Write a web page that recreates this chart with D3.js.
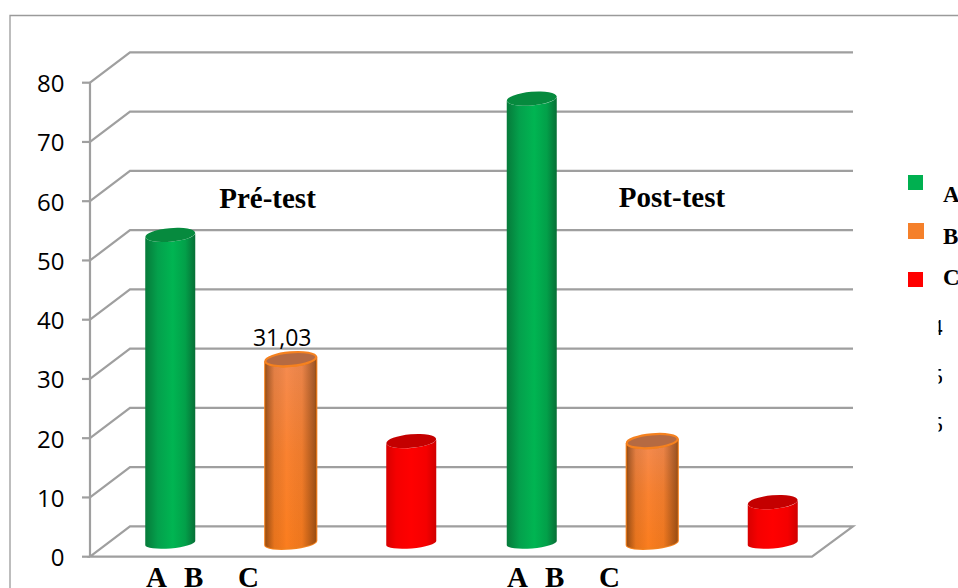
<!DOCTYPE html>
<html><head><meta charset="utf-8">
<script src="https://cdnjs.cloudflare.com/ajax/libs/d3/7.8.5/d3.min.js"></script>
<style>html,body{margin:0;padding:0;background:#fff;overflow:hidden}svg{display:block}</style>
</head><body><svg id="c" width="958" height="588"></svg>
<script>
const groups = ["Pré-test", "Post-test"];
const seriesNames = ["A", "B", "C"];
const seriesColors = ["#00b050", "#f5802a", "#ff0000"];
const preValues = [52, 31.03, 17.2];
const postValues = [75, 17.2, 6.9];
const yTicks = [0, 10, 20, 30, 40, 50, 60, 70, 80];
const fragments = ["4", "5", "5"];

const svg = d3.select("#c");
const W = 958, H = 588;
const GRID = "#9f9f9f";
const y = d3.scaleLinear().domain([0, 80]).range([556.7, 82.7]);
const xG = d3.scaleBand().domain(groups).range([110, 833]);
const xS = d3.scaleBand().domain(seriesNames).range([0, xG.bandwidth()]);
const depthX = 40, depthY = 30.3, floorRight = 812;
const baseOffset = 13.7;

const defs = svg.append("defs");
defs.append("clipPath").attr("id", "fragClip").append("rect").attr("x", 938.5).attr("y", 300).attr("width", 4).attr("height", 150);

function hGrad(id, stops) {
  const g = defs.append("linearGradient").attr("id", id).attr("x1", 0).attr("x2", 1).attr("y1", 0).attr("y2", 0);
  stops.forEach(s => g.append("stop").attr("offset", s[0]).attr("stop-color", s[1]).attr("stop-opacity", s[2] === undefined ? 1 : s[2]));
}
hGrad("g0", [[0, "#067a3a"], [.25, "#04a04c"], [.55, "#00b552"], [.8, "#02a049"], [1, "#076f36"]]);
hGrad("g2", [[0, "#d80000"], [.2, "#f50000"], [.5, "#ff0000"], [.8, "#f50000"], [1, "#d00000"]]);
hGrad("shade1", [[0, "#5a2c08", .6], [.18, "#5a2c08", .12], [.42, "#000", 0], [.72, "#5a2c08", .08], [1, "#5a2c08", .6]]);
const v1 = defs.append("linearGradient").attr("id", "g1").attr("x1", 0).attr("x2", 0).attr("y1", 0).attr("y2", 1);
v1.append("stop").attr("offset", 0).attr("stop-color", "#f58c52");
v1.append("stop").attr("offset", .5).attr("stop-color", "#fa8230");
v1.append("stop").attr("offset", 1).attr("stop-color", "#fb7d1e");
const tops = ["#068a3e", "#b56a42", "#c40000"];

svg.append("path").attr("d", `M10,${H} L10,15.5 L${W},15.5`).attr("fill", "none").attr("stroke", "#9a9a9a").attr("stroke-width", 1.3);

const gridG = svg.append("g").attr("fill", "none").attr("stroke", GRID).attr("stroke-width", 2.2);
yTicks.forEach(t => {
  const yy = y(t);
  if (t > 0) gridG.append("path").attr("d", `M90,${yy} L${90 + depthX},${yy - depthY} L${floorRight + depthX + 1},${yy - depthY}`);
  gridG.append("line").attr("x1", 82).attr("x2", 90).attr("y1", yy).attr("y2", yy);
});
gridG.append("path").attr("d", `M90,${y(0)} L${90 + depthX},${y(0) - depthY} L${floorRight + depthX + 1},${y(0) - depthY} L${floorRight},${y(0)} Z`);
gridG.append("line").attr("x1", 90).attr("x2", 90).attr("y1", y(80)).attr("y2", y(0));

const axisFont = "'Open Sans'";
svg.append("g").selectAll("text").data(yTicks).join("text")
  .attr("x", 64.5).attr("y", d => y(d) + 9.5).attr("text-anchor", "end")
  .attr("font-family", axisFont).attr("font-size", 24).attr("fill", "#000").text(d => d);

const rows = [preValues, postValues];
const widths = [50, 51, 50];
const tilt = -5;
groups.forEach((grp, gi) => {
  rows[gi].forEach((v, si) => {
    const cx = xG(grp) + xS(seriesNames[si]) + xS.bandwidth() / 2;
    const rx = widths[si] / 2, ryTop = 6.8, ryBot = 5.4;
    const topY = y(v) - baseOffset, botY = y(0) - baseOffset;
    const dy = rx * Math.sin(-tilt * Math.PI / 180);
    const lx = cx - rx, rxx = cx + rx;
    const body = `M${lx},${topY + dy} L${lx},${botY + dy} A${rx},${ryBot} ${tilt} 0 0 ${rxx},${botY - dy} L${rxx},${topY - dy} A${rx},${ryTop} ${tilt} 0 1 ${lx},${topY + dy} Z`;
    const g = svg.append("g");
    g.append("path").attr("d", body).attr("fill", `url(#g${si})`)
      .attr("stroke", si === 1 ? "#f5811f" : "none").attr("stroke-width", si === 1 ? 2.2 : 0);
    if (si === 1) g.append("path").attr("d", body).attr("fill", "url(#shade1)");
    g.append("ellipse").attr("cx", cx).attr("cy", topY).attr("rx", rx).attr("ry", ryTop)
      .attr("transform", `rotate(${tilt} ${cx} ${topY})`).attr("fill", tops[si])
      .attr("stroke", si === 1 ? "#f5811f" : "none").attr("stroke-width", si === 1 ? 2.2 : 0);
    if (gi === 0 && si === 1) {
      svg.append("text").attr("x", cx - 8.5).attr("y", topY - 13).attr("text-anchor", "middle")
        .attr("font-family", axisFont).attr("font-size", 23).attr("fill", "#000")
        .text(String(v).replace(".", ","));
    }
  });
});

const serif = "'Liberation Serif'";
const boldText = (x, yy, s, size, anchor) => svg.append("text").attr("x", x).attr("y", yy)
  .attr("text-anchor", anchor || "start").attr("font-family", serif).attr("font-weight", "bold")
  .attr("font-size", size).attr("fill", "#000").text(s);
boldText(267.5, 208, groups[0], 29, "middle");
boldText(672, 207, groups[1], 29, "middle");

const catOffsets = [0, 38, 92];
[146, 507].forEach(x0 => seriesNames.forEach((n, i) => boldText(x0 + catOffsets[i], 587, n, 29)));

const legY = [175, 223, 272], legS = [15, 16, 15], legT = [202, 243.5, 285];
seriesNames.forEach((n, i) => {
  svg.append("rect").attr("x", 908).attr("y", legY[i]).attr("width", legS[i]).attr("height", legS[i]).attr("fill", seriesColors[i]);
  boldText(943, legT[i], n, 23);
});
const fg = svg.append("g").attr("clip-path", "url(#fragClip)");
[335, 384, 432].forEach((yy, i) => {
  fg.append("text").attr("x", 943).attr("y", yy).attr("text-anchor", "end").attr("font-family", serif)
    .attr("font-size", 24).attr("fill", "#000").text(fragments[i]);
});
</script></body></html>
